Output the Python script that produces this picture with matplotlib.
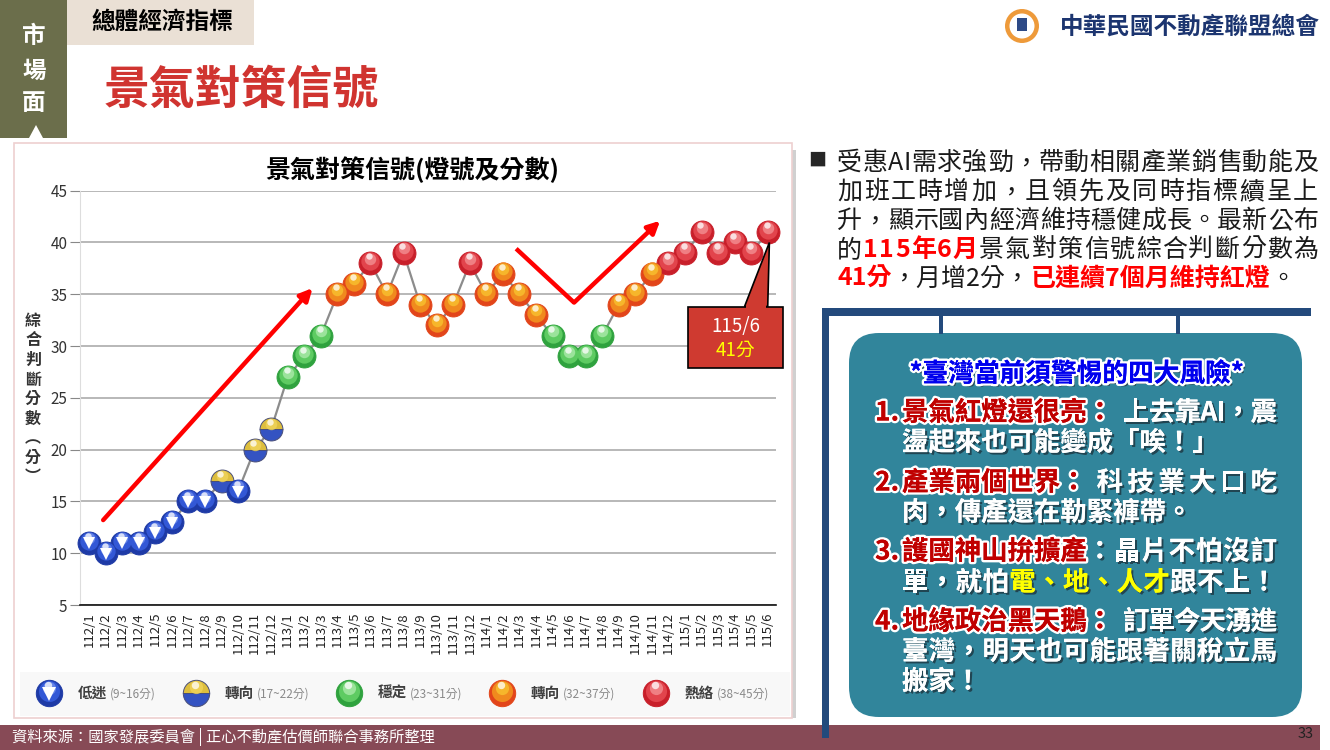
import matplotlib
matplotlib.use('Agg')
import matplotlib.pyplot as plt
from matplotlib.patches import Rectangle, FancyBboxPatch, Polygon, Circle
import matplotlib.patheffects as pe
from matplotlib.transforms import offset_copy

plt.rcParams['font.family'] = ['Noto Sans CJK TC', 'DejaVu Sans']

# ---------------- data ----------------
months = ['112/1', '112/2', '112/3', '112/4', '112/5', '112/6', '112/7', '112/8', '112/9', '112/10', '112/11', '112/12',
          '113/1', '113/2', '113/3', '113/4', '113/5', '113/6', '113/7', '113/8', '113/9', '113/10', '113/11', '113/12',
          '114/1', '114/2', '114/3', '114/4', '114/5', '114/6', '114/7', '114/8', '114/9', '114/10', '114/11', '114/12',
          '115/1', '115/2', '115/3', '115/4', '115/5', '115/6']
scores = [11, 10, 11, 11, 12, 13, 15, 15, 17, 16, 20, 22,
          27, 29, 31, 35, 36, 38, 35, 39, 34, 32, 34, 38,
          35, 37, 35, 33, 31, 29, 29, 31, 34, 35, 37, 38,
          39, 41, 39, 40, 39, 41]
level_upper = [16, 22, 31, 37, 45]
level_kinds = ['blue', 'yb', 'green', 'orange', 'red']
level_names = ['低迷', '轉向', '穩定', '轉向', '熱絡']
level_ranges = ['(9~16分)', '(17~22分)', '(23~31分)', '(32~37分)', '(38~45分)']
yticks = [5, 10, 15, 20, 25, 30, 35, 40, 45]

W, H = 1330, 750
fig = plt.figure(figsize=(W / 100, H / 100), dpi=100)
bg = fig.add_axes([0, 0, 1, 1], zorder=0)
bg.set_xlim(0, W)
bg.set_ylim(H, 0)
bg.axis('off')
renderer = fig.canvas.get_renderer()


def fa(x0, y0, x1, y1):
    return [x0 / W, 1 - y1 / H, (x1 - x0) / W, (y1 - y0) / H]


def kind_of(v):
    for up, k in zip(level_upper, level_kinds):
        if v <= up:
            return k
    return level_kinds[-1]


STY = {
    'blue':   ('#1E3AA6', '#3358D6', '#6F8BEA'),
    'green':  ('#2FA23E', '#5ECB62', '#A6E8A6'),
    'orange': ('#E2451A', '#F08A1E', '#F8BE2E'),
    'red':    ('#C81F2A', '#E2444C', '#F28A8E'),
}


def ball(ax, x, y, kind, ms, z=5):
    tr = ax.transData
    if kind == 'yb':
        ax.plot(x, y, 'o', ms=ms, fillstyle='top', mfc='#DDBE3E', mfcalt='#3453C2',
                mec='#4a4f78', mew=0.7, zorder=z, clip_on=False)
        t2 = offset_copy(tr, fig, x=0, y=ms * 0.22, units='points')
        ax.plot(x, y, 'o', ms=ms * 0.5, color='#F0D45A', mew=0, alpha=0.8, zorder=z + 0.2, transform=t2,
                clip_on=False)
    else:
        c0, c1, c2 = STY[kind]
        ax.plot(x, y, 'o', ms=ms, color=c0, mec=c0, mew=0.7, zorder=z, clip_on=False)
        t1 = offset_copy(tr, fig, x=0, y=ms * 0.09, units='points')
        ax.plot(x, y, 'o', ms=ms * 0.8, color=c1, mew=0, zorder=z + 0.1, transform=t1, clip_on=False)
        t2 = offset_copy(tr, fig, x=0, y=ms * 0.2, units='points')
        ax.plot(x, y, 'o', ms=ms * 0.5, color=c2, mew=0, alpha=0.85, zorder=z + 0.2, transform=t2, clip_on=False)
    t3 = offset_copy(tr, fig, x=-ms * 0.05, y=ms * 0.3, units='points')
    ax.plot(x, y, 'o', ms=ms * 0.28, color='white', mew=0, alpha=0.75, zorder=z + 0.3, transform=t3, clip_on=False)
    if kind == 'blue':
        t4 = offset_copy(tr, fig, x=0, y=-ms * 0.02, units='points')
        ax.plot(x, y, 'v', ms=ms * 0.5, color='white', mew=0, zorder=z + 0.4, transform=t4, clip_on=False)


# ---------------- header ----------------
bg.add_patch(Rectangle((0, 0), 67, 138, fc='#6B6E4B', ec='none'))
for ch, yy in zip('市場面', [36, 71, 103]):
    bg.text(34, yy, ch, color='white', fontsize=17, fontweight='bold', ha='center', va='center')
bg.add_patch(Polygon([(29, 138), (36, 125), (43, 138)], closed=True, fc='white', ec='none'))
bg.add_patch(Rectangle((67, 0), 187, 45, fc='#EAE0D5', ec='none'))
bg.text(162, 22, '總體經濟指標', fontsize=17, fontweight='bold', ha='center', va='center', color='black')
bg.text(241, 91, '景氣對策信號', fontsize=33, fontweight='bold', ha='center', va='center', color='#D03430')

# logo
bg.add_patch(Circle((1022, 26), 17, fc='#EE9A3A', ec='none'))
bg.add_patch(Circle((1022, 26), 12.5, fc='white', ec='none'))
bg.add_patch(Rectangle((1017, 18), 10, 13, fc='#2D4A86', ec='none'))
bg.text(1060, 27, '中華民國不動產聯盟總會', fontsize=17, fontweight='bold', ha='left', va='center',
        color='#1C3570')

# ---------------- chart frame ----------------
bg.add_patch(Rectangle((792, 150), 4, 568, fc='#d0d0d0', ec='none'))
bg.add_patch(Rectangle((14, 143), 778, 575, fc='white', ec='#EDD0D0', lw=1.2))
bg.add_patch(Rectangle((20, 672), 770, 44, fc='#F8F8F8', ec='none'))
bg.text(412, 170, '景氣對策信號(燈號及分數)', fontsize=18, fontweight='bold', ha='center', va='center',
        color='black')
ylab = '綜合判斷分數︵分︶'
for i, ch in enumerate(ylab):
    bg.text(33, 321 + i * 19.5, ch, fontsize=11.5, fontweight='bold', ha='center', va='center', color='#333333')

# legend
icon_x = [49, 196, 349, 502, 656]
for ix, k, nm, rg in zip(icon_x, level_kinds, level_names, level_ranges):
    ball(bg, ix, 693, k, 19, z=3)
    t = bg.text(ix + 29, 693, nm, fontsize=10.5, fontweight='bold', color='#404040', ha='left', va='center')
    w = t.get_window_extent(renderer).width
    bg.text(ix + 29 + w + 3, 694, rg, fontsize=8.5, color='#8a8a8a', ha='left', va='center')

# ---------------- chart ----------------
ax = fig.add_axes(fa(80, 190.7, 776, 605), zorder=2)
ax.set_facecolor('none')
n = len(scores)
xs = list(range(n))
ax.set_xlim(-0.55, 41.5)
ax.set_ylim(5, 45)
ax.set_yticks(yticks)
ax.yaxis.grid(True, color='#a4a4a4', lw=1.1)
ax.set_axisbelow(True)
for s in ['top', 'right']:
    ax.spines[s].set_visible(False)
ax.spines['left'].set_color('#dddddd')
ax.spines['bottom'].set_color('#111111')
ax.spines['bottom'].set_linewidth(1.2)
ax.tick_params(axis='y', length=7, color='#888888', labelsize=11, labelcolor='#333333', pad=2)
ax.set_xticks(xs)
ax.set_xticklabels(months, rotation=90, fontsize=9.5, color='#222222')
ax.tick_params(axis='x', length=0, pad=5)

ax.plot(xs, scores, color='#8c8c8c', lw=1.6, zorder=3)
for x, v in zip(xs, scores):
    ball(ax, x, v, kind_of(v), 16.5, z=5)

# trend arrows
ap = dict(arrowstyle='-|>', lw=3.2, color='#FF0000', mutation_scale=18, shrinkA=0, shrinkB=0)
ax.annotate('', xy=(13.5, 35.6), xytext=(0.85, 13.2), arrowprops=ap, zorder=4)
ax.plot([25.8, 29.3], [39.4, 34.2], color='#FF0000', lw=3.2, solid_capstyle='butt', zorder=4)
ax.annotate('', xy=(34.5, 42.1), xytext=(29.3, 34.2), arrowprops=ap, zorder=4)

# callout
li, lv = n - 1, scores[-1]
bx0, bx1 = li - 4.8, li + 0.9
by0, by1 = lv - 13.1, lv - 7.2
ax.add_patch(Polygon([(li - 1.4, by1 + 0.02), (li + 0.1, lv - 1.0), (li, by1 + 0.02)], closed=True,
                     fc='#CF3A30', ec='black', lw=1.2, zorder=8, clip_on=False))
ax.add_patch(Rectangle((bx0, by0), bx1 - bx0, by1 - by0, fc='#CF3A30', ec='black', lw=1.2, zorder=9,
                       clip_on=False))
ax.add_patch(Rectangle((li - 1.3, by1 - 0.2), 1.2, 0.4, fc='#CF3A30', ec='none', zorder=9.5, clip_on=False))
ax.text((bx0 + bx1) / 2, lv - 9.1, months[-1], color='white', fontsize=13.5, ha='center', va='center',
        zorder=10, clip_on=False)
ax.text((bx0 + bx1) / 2, lv - 11.4, f'{lv}分', color='#FFFF00', fontsize=13.5, ha='center', va='center',
        zorder=10, clip_on=False)


# ---------------- text helpers ----------------
def segs(x, y, parts, size, x_end=None):
    """Place coloured text segments; if x_end is given, justify characters to fill [x, x_end]."""
    if x_end is None:
        for txt, st in parts:
            t = bg.text(x, y, txt, fontsize=size, ha='left', va='center', **st)
            x += t.get_window_extent(renderer).width
        return x
    items = []
    for txt, st in parts:
        for ch in txt:
            t = bg.text(0, y, ch, fontsize=size, ha='left', va='center', **st)
            items.append((t, t.get_window_extent(renderer).width))
    total = sum(w for _, w in items)
    gap = (x_end - x - total) / max(len(items) - 1, 1)
    for t, w in items:
        t.set_x(x)
        x += w + gap
    return x


NORM = dict(color='#1a1a1a')
RED = dict(color='#FF0000', fontweight='bold')
bg.text(817, 161, '■', fontsize=13, color='#262626', ha='center', va='center')
para = [
    [('受惠AI需求強勁，帶動相關產業銷售動能及', NORM)],
    [('加班工時增加，且領先及同時指標續呈上', NORM)],
    [('升，顯示國內經濟維持穩健成長。最新公布', NORM)],
    [('的', NORM), ('115年6月', RED), ('景氣對策信號綜合判斷分數為', NORM)],
    [('41分', RED), ('，月增2分，', NORM), ('已連續7個月維持紅燈', RED), ('。', NORM)],
]
for i, p in enumerate(para):
    segs(837, 163 + i * 29, p, 18, x_end=1318 if i < len(para) - 1 else None)

# ---------------- risk box ----------------
bg.add_patch(FancyBboxPatch((849, 333), 453, 384, boxstyle='round,pad=0,rounding_size=30',
                            fc='#31859B', ec='none'))
bg.add_patch(Rectangle((0, 725), 1320, 25, fc='#874A56', ec='none'))
NAVY = '#234A7C'
bg.add_patch(Rectangle((822, 308), 489, 8, fc=NAVY, ec='none'))
bg.add_patch(Rectangle((822, 308), 7, 430, fc=NAVY, ec='none'))
bg.add_patch(Rectangle((939, 312), 4, 22, fc=NAVY, ec='none'))
bg.add_patch(Rectangle((1176, 312), 4, 22, fc=NAVY, ec='none'))

shadow = pe.withSimplePatchShadow(offset=(1.5, -1.5), shadow_rgbFace='#1a2a33', alpha=0.7)
BODY = dict(color='white', fontweight='bold', path_effects=[shadow, pe.Normal()])
YEL = dict(color='#FFFF00', fontweight='bold', path_effects=[shadow, pe.Normal()])
HEAD = dict(color='#C00000', fontweight='bold',
            path_effects=[pe.withStroke(linewidth=3.5, foreground='white'), pe.Normal()])
TITLE = dict(color='#0000EE', fontweight='bold',
             path_effects=[pe.withSimplePatchShadow(offset=(2, -2), shadow_rgbFace='#222222', alpha=0.6),
                           pe.withStroke(linewidth=3.5, foreground='white'), pe.Normal()])

bg.text(1077, 374, '*臺灣當前須警惕的四大風險*', fontsize=18.5, ha='center', va='center', **TITLE)
box_lines = [
    (413, [('1.', HEAD), ('景氣紅燈還很亮：', HEAD), ('上去靠AI，震', BODY)], True),
    (443, [('盪起來也可能變成「唉！」', BODY)], False),
    (483, [('2.', HEAD), ('產業兩個世界：', HEAD), ('科技業大口吃', BODY)], True),
    (513, [('肉，傳產還在勒緊褲帶。', BODY)], False),
    (552, [('3.', HEAD), ('護國神山拚擴產', HEAD), ('：晶片不怕沒訂', BODY)], True),
    (583, [('單，就怕', BODY), ('電、地、人才', YEL), ('跟不上！', BODY)], True),
    (622, [('4.', HEAD), ('地緣政治黑天鵝：', HEAD), ('訂單今天湧進', BODY)], True),
    (652, [('臺灣，明天也可能跟著關稅立馬', BODY)], True),
    (682, [('搬家！', BODY)], False),
]
for y0, p, just in box_lines:
    if p[0][0].endswith('.'):
        bg.text(875, y0, p[0][0], fontsize=19, ha='left', va='center', **p[0][1])
        # heading part at natural spacing, body part justified to the right edge
        xh = segs(902, y0, [p[1]], 19)
        sep = 10 if p[1][0].endswith('：') else 0
        segs(xh + sep, y0, p[2:], 19, x_end=1277)
    else:
        segs(902, y0, p, 19, x_end=1277 if just else None)

# ---------------- footer ----------------
bg.text(12, 737, '資料來源：國家發展委員會 | 正心不動產估價師聯合事務所整理', fontsize=11, color='white',
        ha='left', va='center')
bg.text(1306, 734, '33', fontsize=10.5, color='#222222', ha='center', va='center')

fig.savefig('out.png', dpi=100)
